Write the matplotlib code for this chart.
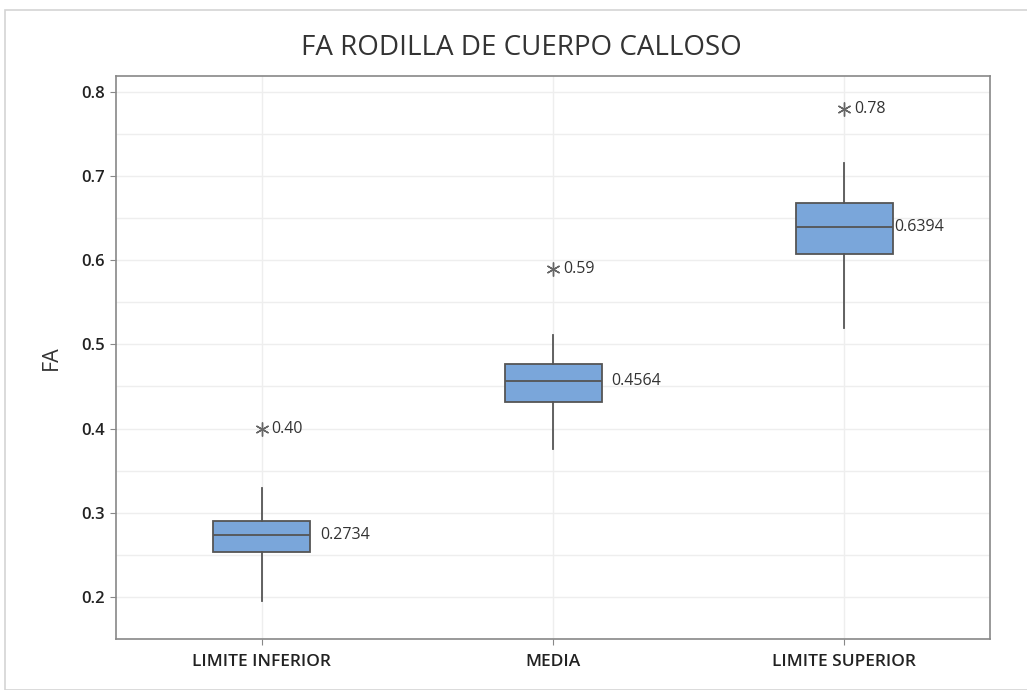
import matplotlib.pyplot as plt
from matplotlib.patches import Rectangle
import numpy as np

plt.rcParams['font.family'] = ['Open Sans', 'DejaVu Sans']

groups = ['LIMITE INFERIOR', 'MEDIA', 'LIMITE SUPERIOR']
q1 = [0.253, 0.431, 0.607]
median = [0.2734, 0.4564, 0.6394]
q3 = [0.290, 0.477, 0.668]
whislo = [0.195, 0.376, 0.520]
whishi = [0.329, 0.511, 0.715]
outliers = [0.40, 0.59, 0.78]
median_labels = ['0.2734', '0.4564', '0.6394']
outlier_labels = ['0.40', '0.59', '0.78']

stats = []
for i in range(3):
    stats.append(dict(med=median[i], q1=q1[i], q3=q3[i], whislo=whislo[i],
                      whishi=whishi[i], fliers=[]))

fig = plt.figure(figsize=(10.27, 6.9), dpi=100)
fig.patches.append(Rectangle((0.005, 0), 1.0, 0.985, transform=fig.transFigure,
                             fill=False, edgecolor='#d4d4d4', linewidth=1.2))
ax = fig.add_axes([0.113, 0.074, 0.851, 0.816])

pos = np.arange(1, 4)
ax.bxp(stats, positions=pos, widths=0.333, patch_artist=True, showcaps=False,
       boxprops=dict(facecolor='#7aa6da', edgecolor='#555555', linewidth=1.3),
       medianprops=dict(color='#555555', linewidth=1.3),
       whiskerprops=dict(color='#555555', linewidth=1.3), zorder=3)

edge_off = [7, 7, 1]
for i in range(3):
    ax.annotate(median_labels[i], (pos[i] + 0.1665, median[i]), xytext=(edge_off[i], 0),
                textcoords='offset points', va='center', ha='left', fontsize=11.5,
                color='#333333', zorder=4)
    ax.plot(pos[i], outliers[i], marker=(6, 2, 0), color='#666666', markersize=10,
            markeredgewidth=1.0, zorder=4)
    ax.annotate(outlier_labels[i], (pos[i], outliers[i]), xytext=(7, 0),
                textcoords='offset points', va='center', ha='left', fontsize=11.5,
                color='#333333', zorder=4)

ax.set_xlim(0.5, 3.5)
ax.set_ylim(0.158, 0.819)
ax.set_xticks(pos)
ax.set_xticklabels(groups, fontsize=12.5, fontweight='semibold', color='#222222')
ax.set_yticks([0.2, 0.3, 0.4, 0.5, 0.6, 0.7, 0.8])
ax.set_yticklabels(['0.2', '0.3', '0.4', '0.5', '0.6', '0.7', '0.8'], fontsize=12,
                   fontweight='semibold', color='#222222')
ax.set_yticks(np.arange(0.15, 0.82, 0.05), minor=True)
ax.tick_params(axis='y', which='minor', length=0)
ax.tick_params(which='major', length=4, color='#888888', pad=4)
ax.tick_params(axis='x', pad=7)
ax.grid(True, which='both', axis='y', color='#eeeeee', linewidth=1, zorder=0)
ax.grid(True, which='major', axis='x', color='#eeeeee', linewidth=1, zorder=0)
ax.set_axisbelow(True)
for s in ax.spines.values():
    s.set_color('#888888')
    s.set_linewidth(1.2)

ax.set_ylabel('FA', fontsize=15.5, color='#333333', labelpad=14)
fig.suptitle('FA RODILLA DE CUERPO CALLOSO', x=0.508, y=0.930, va='center',
             fontsize=20, color='#333333')

fig.savefig('out.png', dpi=100)
